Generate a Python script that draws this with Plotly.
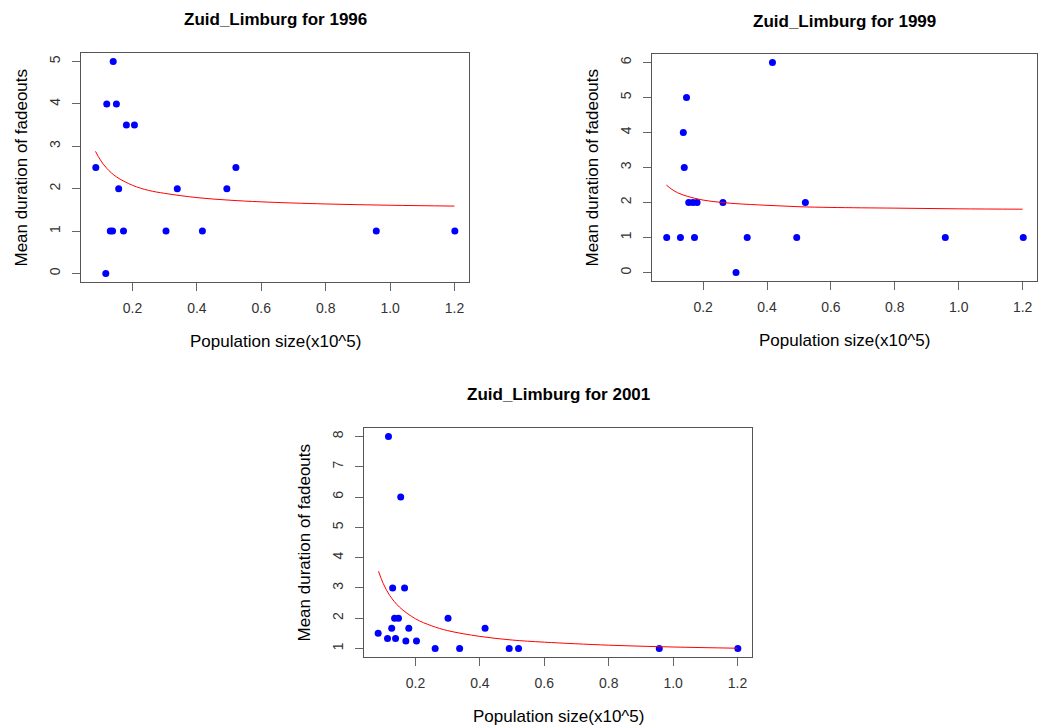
import plotly.graph_objects as go

# ---------------- data ----------------
x_1996 = [0.086, 0.117, 0.120, 0.140, 0.150, 0.131, 0.138, 0.157, 0.172, 0.181, 0.206,
          0.304, 0.339, 0.417, 0.493, 0.521, 0.957, 1.201]
y_1996 = [2.5, 0, 4, 5, 4, 1, 1, 2, 1, 3.5, 3.5, 1, 2, 1, 2, 2.5, 1, 1]

x_1999 = [0.086, 0.129, 0.138, 0.141, 0.148, 0.155, 0.168, 0.173, 0.181, 0.262, 0.303,
          0.338, 0.417, 0.493, 0.520, 0.958, 1.202]
y_1999 = [1, 1, 4, 3, 5, 2, 2, 1, 2, 2, 0, 1, 6, 1, 2, 1, 1]

x_2001 = [0.084, 0.113, 0.116, 0.126, 0.129, 0.135, 0.138, 0.147, 0.154, 0.166, 0.170,
          0.179, 0.203, 0.261, 0.301, 0.337, 0.416, 0.491, 0.520, 0.957, 1.201]
y_2001 = [1.5, 1.33, 8, 1.67, 3, 2, 1.33, 2, 6, 3, 1.25, 1.67, 1.25, 1, 2, 1, 1.67,
          1, 1, 1, 1]

# fitted curves
curve_x = [0.085, 0.10, 0.12, 0.15, 0.20, 0.25, 0.30, 0.40, 0.50, 0.60, 0.80, 1.00, 1.20]
curve_1996 = [2.88, 2.68, 2.48, 2.28, 2.08, 1.96, 1.89, 1.79, 1.73, 1.69, 1.64, 1.61, 1.59]
curve_1999 = [2.50, 2.39, 2.28, 2.18, 2.07, 2.01, 1.97, 1.92, 1.88, 1.86, 1.84, 1.82, 1.81]
curve_2001 = [3.55, 3.14, 2.75, 2.37, 1.98, 1.75, 1.59, 1.40, 1.28, 1.21, 1.11, 1.05, 1.01]

titles = ["Zuid_Limburg for 1996", "Zuid_Limburg for 1999", "Zuid_Limburg for 2001"]
x_ticks = [0.2, 0.4, 0.6, 0.8, 1.0, 1.2]
x_tick_text = ["0.2", "0.4", "0.6", "0.8", "1.0", "1.2"]
y_ticks_1996 = [0, 1, 2, 3, 4, 5]
y_ticks_1999 = [0, 1, 2, 3, 4, 5, 6]
y_ticks_2001 = [1, 2, 3, 4, 5, 6, 7, 8]

x_label = "Population size(x10^5)"
y_label = "Mean duration of fadeouts"

# ---------------- layout ----------------
W, H = 1040, 727
# plot boxes in pixels: left, right, top, bottom
boxes = [(81, 469, 53, 282), (652, 1037, 54, 281), (364, 752, 428, 657)]
y_ranges = [[-0.2, 5.2], [-0.24, 6.24], [0.72, 8.28]]
x_range = [0.040, 1.245]

FONT = "Liberation Sans, Arial, sans-serif"

fig = go.Figure()
series = [(x_1996, y_1996, curve_1996), (x_1999, y_1999, curve_1999), (x_2001, y_2001, curve_2001)]
ytick_sets = [y_ticks_1996, y_ticks_1999, y_ticks_2001]

for i, (xs, ys, cy) in enumerate(series):
    sfx = "" if i == 0 else str(i + 1)
    fig.add_trace(go.Scatter(x=xs, y=ys, mode="markers", xaxis="x" + sfx, yaxis="y" + sfx,
                             marker=dict(color="#0000FF", size=7), showlegend=False))
    fig.add_trace(go.Scatter(x=curve_x, y=cy, mode="lines", xaxis="x" + sfx, yaxis="y" + sfx,
                             line=dict(color="#FF0000", width=1, shape="spline"), showlegend=False))

layout = dict(width=W, height=H, margin=dict(l=0, r=0, t=0, b=0),
              paper_bgcolor="white", plot_bgcolor="white", showlegend=False,
              font=dict(family=FONT, color="#222222"))
annotations = []
for i, (l, r, t, b) in enumerate(boxes):
    sfx = "" if i == 0 else str(i + 1)
    xd = [l / W, r / W]
    yd = [1 - b / H, 1 - t / H]
    layout["xaxis" + sfx] = dict(domain=xd, range=x_range, anchor="y" + sfx,
                                 tickvals=x_ticks, ticktext=x_tick_text,
                                 ticks="outside", ticklen=8, tickcolor="#666666", tickwidth=1,
                                 showline=True, linecolor="#555555", linewidth=1, mirror=True,
                                 showgrid=False, zeroline=False,
                                 tickfont=dict(size=14, color="#333333"), ticklabelstandoff=5)
    layout["yaxis" + sfx] = dict(domain=yd, range=y_ranges[i], anchor="x" + sfx,
                                 tickvals=ytick_sets[i], tickangle=-90,
                                 ticks="outside", ticklen=8, tickcolor="#666666", tickwidth=1,
                                 showline=True, linecolor="#555555", linewidth=1, mirror=True,
                                 showgrid=False, zeroline=False,
                                 tickfont=dict(size=14, color="#333333"), ticklabelstandoff=6)
    cx = (l + r) / 2 / W
    annotations.append(dict(text="<b>" + titles[i] + "</b>", x=cx, y=1 - (t - 33) / H,
                            xref="paper", yref="paper", showarrow=False,
                            font=dict(size=17, color="black", family=FONT),
                            xanchor="center", yanchor="middle"))
    annotations.append(dict(text=x_label, x=cx, y=1 - (b + 59) / H,
                            xref="paper", yref="paper", showarrow=False,
                            font=dict(size=17, color="black", family=FONT),
                            xanchor="center", yanchor="middle"))
    annotations.append(dict(text=y_label, x=(l - 60) / W, y=1 - (t + b) / 2 / H,
                            xref="paper", yref="paper", showarrow=False, textangle=-90,
                            font=dict(size=17, color="black", family=FONT),
                            xanchor="center", yanchor="middle"))
layout["annotations"] = annotations
fig.update_layout(**layout)

fig.write_html("out.html")
